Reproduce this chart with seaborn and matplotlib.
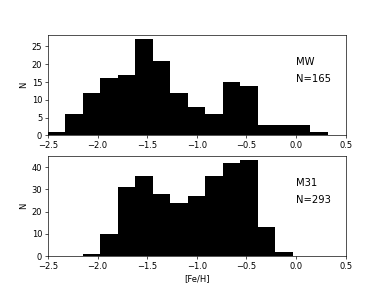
import numpy as np
import pandas as pd
import seaborn as sns
import matplotlib
matplotlib.use('Agg')
import matplotlib.pyplot as plt

# Histogram bins shared by both panels
bin_edges = list(np.linspace(-2.5, 0.32, 17))
bin_centers = [0.5 * (a + b) for a, b in zip(bin_edges[:-1], bin_edges[1:])]

# Counts per bin
mw_counts = [1, 6, 12, 16, 17, 27, 21, 12, 8, 6, 15, 14, 3, 3, 3, 1]
m31_counts = [0, 0, 1, 10, 31, 36, 28, 24, 27, 36, 42, 43, 13, 2, 0, 0]

panels = [("MW", mw_counts), ("M31", m31_counts)]

fig, axes = plt.subplots(2, 1, figsize=(6.4, 4.8), dpi=60)

for ax, (name, counts) in zip(axes, panels):
    df = pd.DataFrame({"feh": bin_centers, "n": counts})
    sns.histplot(data=df, x="feh", weights="n", bins=bin_edges, ax=ax,
                 element='bars', fill=True, color='black', alpha=1,
                 edgecolor='black', linewidth=0)
    ax.set_xlim(-2.5, 0.5)
    ax.set_ylabel("N")
    ax.set_xlabel("")
    ax.text(0.833, 0.70, name, transform=ax.transAxes, fontsize=12)
    ax.text(0.833, 0.53, f"N={sum(counts)}", transform=ax.transAxes, fontsize=12)

axes[0].set_yticks([0, 5, 10, 15, 20, 25])
axes[1].set_yticks([0, 10, 20, 30, 40])
axes[1].set_xlabel("[Fe/H]")

plt.savefig("out.png", dpi=60)
